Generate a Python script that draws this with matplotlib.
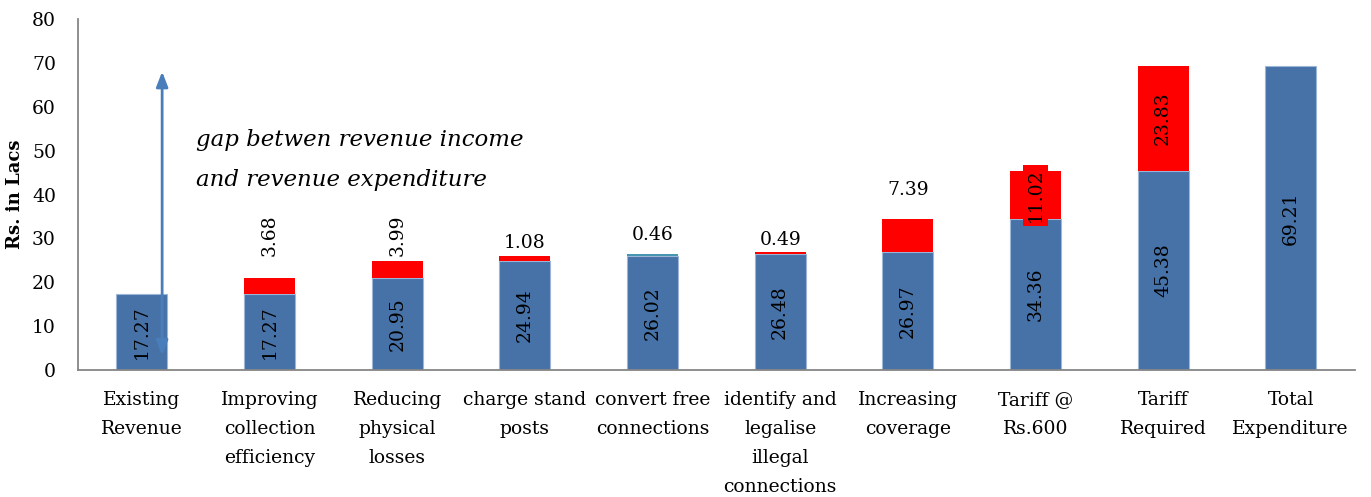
import numpy as np
import matplotlib.pyplot as plt

plt.rcParams['font.family'] = ['DejaVu Serif']

# waterfall of revenue steps (Rs. in Lacs)
categories = ["Existing\nRevenue", "Improving\ncollection\nefficiency",
              "Reducing\nphysical\nlosses", "charge stand\nposts",
              "convert free\nconnections",
              "identify and\nlegalise\nillegal\nconnections",
              "Increasing\ncoverage", "Tariff @\nRs.600", "Tariff\nRequired",
              "Total\nExpenditure"]
base = [17.27, 17.27, 20.95, 24.94, 26.02, 26.48, 26.97, 34.36, 45.38, 69.21]
step = [0, 3.68, 3.99, 1.08, 0.46, 0.49, 7.39, 11.02, 23.83, 0]
# where each step label sits (None = middle of the red segment)
step_label_y = [None, 30.8, 30.8, 28.9, 30.7, 29.6, 41.0, None, None, None]
step_label_rot = [0, 90, 90, 0, 0, 0, 0, 90, 90, 0]

blue = "#4672A8"
red = "#FF0000"
teal = "#4596AE"

fig = plt.figure(figsize=(13.71, 4.97), dpi=100)
ax = fig.add_axes([0.057, 0.2555, 0.931, 0.7063])

x = np.arange(len(categories))
w = 0.40
ax.bar(x, base, width=w, color=blue, edgecolor="#9DB5D6", linewidth=0.8, zorder=2)
step_colors = [teal if i == 4 else red for i in range(len(step))]
ax.bar(x, step, width=w, bottom=base, color=step_colors, linewidth=0, zorder=2)

# values inside the blue bars
for i, v in enumerate(base):
    ax.text(x[i], v / 2, f"{v:.2f}", rotation=90, ha="center", va="center",
            fontsize=13.5, color="black", zorder=4)

# step values
for i, v in enumerate(step):
    if v == 0:
        continue
    if step_label_y[i] is None:
        y = base[i] + v / 2
    else:
        y = step_label_y[i]
    kw = {}
    if i == 7:
        kw["bbox"] = dict(boxstyle="square,pad=0.2", fc=red, ec="none")
    ax.text(x[i], y, f"{v:.2f}", rotation=step_label_rot[i], ha="center",
            va="center", fontsize=13.5, color="black", zorder=4, **kw)

# gap arrow on the first bar
ax.annotate("", xy=(0.158, 68.0), xytext=(0.158, 3.3),
            arrowprops=dict(arrowstyle="<|-|>,head_length=0.9,head_width=0.35",
                            color="#4A7EBB", lw=2, shrinkA=0, shrinkB=0),
            zorder=5)
ax.text(0.42, 47.8, "gap betwen revenue income\nand revenue expenditure",
        style="italic", fontsize=16.5, ha="left", va="center", linespacing=2.05)

ax.set_xlim(-0.5, len(categories) - 0.5)
ax.set_ylim(0, 80)
ax.set_yticks(range(0, 81, 10))
ax.set_xticks(x)
ax.set_xticklabels(categories, fontsize=13.5, linespacing=1.8)
ax.tick_params(axis="both", length=0, labelsize=13.5)
ax.tick_params(axis="x", pad=15)
ax.tick_params(axis="y", pad=16)
ax.set_ylabel("Rs. in Lacs", fontsize=13, fontweight="bold", labelpad=6)

for s in ["top", "right"]:
    ax.spines[s].set_visible(False)
for s in ["left", "bottom"]:
    ax.spines[s].set_color("#868686")
    ax.spines[s].set_linewidth(1.3)

fig.savefig("out.png", dpi=100)
